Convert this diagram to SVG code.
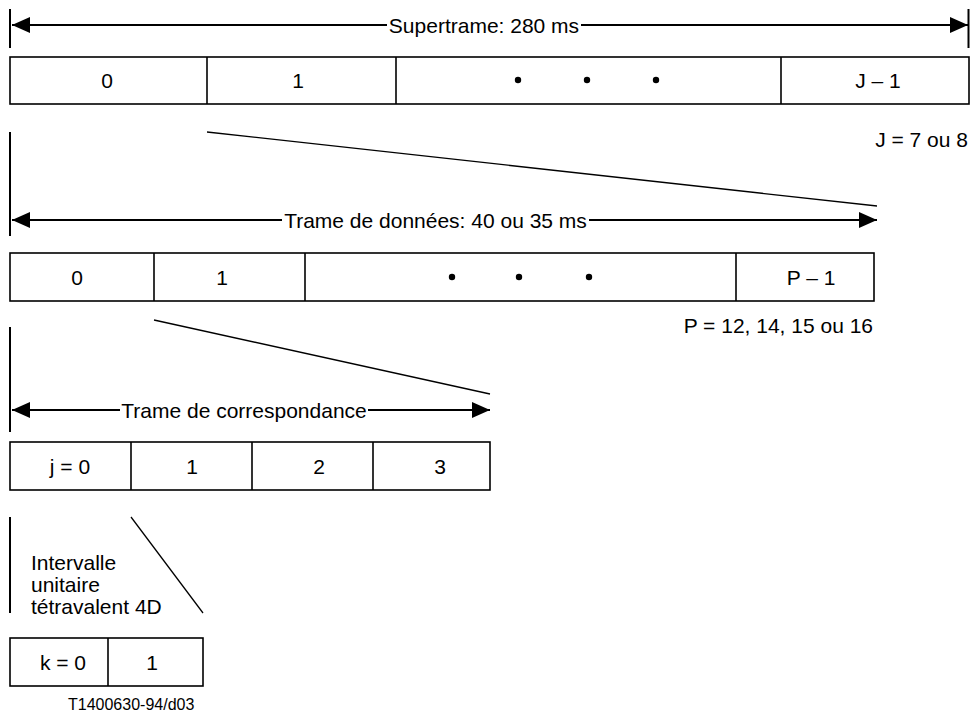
<svg xmlns="http://www.w3.org/2000/svg" width="970" height="715" viewBox="0 0 970 715">
<style>
text{font-family:"Liberation Sans",Arial,sans-serif;font-size:21px;fill:#000}
.c{text-anchor:middle}
.r{text-anchor:end}
.box{fill:#fff;stroke:#000;stroke-width:1.6}
.div{stroke:#000;stroke-width:1.6}
.tick{stroke:#000;stroke-width:2}
.arr{stroke:#000;stroke-width:2;fill:none}
.diag{stroke:#000;stroke-width:1.3}
.dot{fill:#000}
</style>
<defs>
<marker id="ah" markerUnits="userSpaceOnUse" markerWidth="18" markerHeight="16" refX="18" refY="8" orient="auto-start-reverse">
<path d="M0,0 L18,8 L0,16 z" fill="#000"/>
</marker>
</defs>
<g id="connectors">
<line class="tick" x1="10" y1="9" x2="10" y2="48"/>
<line class="tick" x1="968.5" y1="9" x2="968.5" y2="48"/>
<line class="arr" x1="12" y1="25" x2="387" y2="25" marker-start="url(#ah)"/>
<line class="arr" x1="581" y1="25" x2="968" y2="25" marker-end="url(#ah)"/>
<line class="diag" x1="207" y1="132" x2="877" y2="206"/>
<line class="tick" x1="10" y1="132" x2="10" y2="236"/>
<line class="arr" x1="12" y1="220" x2="282" y2="220" marker-start="url(#ah)"/>
<line class="arr" x1="589" y1="220" x2="877" y2="220" marker-end="url(#ah)"/>
<line class="diag" x1="154" y1="320" x2="490" y2="394"/>
<line class="tick" x1="10" y1="327" x2="10" y2="432"/>
<line class="arr" x1="12" y1="410" x2="120" y2="410" marker-start="url(#ah)"/>
<line class="arr" x1="368" y1="410" x2="490" y2="410" marker-end="url(#ah)"/>
<line class="diag" x1="131" y1="517" x2="203" y2="613"/>
<line class="tick" x1="10" y1="517" x2="10" y2="613"/>
</g>
<g id="label-supertrame"><text class="c" x="484" y="32.5">Supertrame: 280 ms</text></g>
<g id="supertrame">
<rect class="box" x="10" y="57" width="959" height="47"/>
<line class="div" x1="207" y1="57" x2="207" y2="104"/>
<line class="div" x1="396" y1="57" x2="396" y2="104"/>
<line class="div" x1="781" y1="57" x2="781" y2="104"/>
<text class="c" x="107" y="88">0</text>
<text class="c" x="298" y="88">1</text>
<circle class="dot" cx="518" cy="80" r="3.2"/>
<circle class="dot" cx="587" cy="80" r="3.2"/>
<circle class="dot" cx="656" cy="80" r="3.2"/>
<text class="c" x="878" y="88">J – 1</text>
</g>
<g id="note-j"><text class="r" x="968" y="147">J = 7 ou 8</text></g>
<g id="label-trame"><text class="c" x="435.5" y="227.5">Trame de données: 40 ou 35 ms</text></g>
<g id="trame">
<rect class="box" x="10" y="253" width="864" height="48"/>
<line class="div" x1="154" y1="253" x2="154" y2="301"/>
<line class="div" x1="305" y1="253" x2="305" y2="301"/>
<line class="div" x1="736" y1="253" x2="736" y2="301"/>
<text class="c" x="77" y="285">0</text>
<text class="c" x="222" y="285">1</text>
<circle class="dot" cx="452" cy="277" r="3.2"/>
<circle class="dot" cx="519" cy="277" r="3.2"/>
<circle class="dot" cx="589" cy="277" r="3.2"/>
<text class="c" x="811" y="285">P – 1</text>
</g>
<g id="note-p"><text class="r" x="873" y="333">P = 12, 14, 15 ou 16</text></g>
<g id="label-correspondance"><text class="c" x="244" y="417.5">Trame de correspondance</text></g>
<g id="correspondance">
<rect class="box" x="10" y="442" width="480" height="48"/>
<line class="div" x1="131" y1="442" x2="131" y2="490"/>
<line class="div" x1="252" y1="442" x2="252" y2="490"/>
<line class="div" x1="373" y1="442" x2="373" y2="490"/>
<text class="c" x="70" y="474">j = 0</text>
<text class="c" x="192" y="474">1</text>
<text class="c" x="319" y="474">2</text>
<text class="c" x="440" y="474">3</text>
</g>
<g id="label-intervalle">
<text x="31" y="570">Intervalle</text>
<text x="31" y="592">unitaire</text>
<text x="31" y="614">tétravalent 4D</text>
</g>
<g id="intervalle">
<rect class="box" x="10" y="638" width="193" height="48"/>
<line class="div" x1="108" y1="638" x2="108" y2="686"/>
<text class="c" x="63" y="670">k = 0</text>
<text class="c" x="152" y="670">1</text>
</g>
<g id="ref"><text x="68" y="710" style="font-size:16px">T1400630-94/d03</text></g>
</svg>
